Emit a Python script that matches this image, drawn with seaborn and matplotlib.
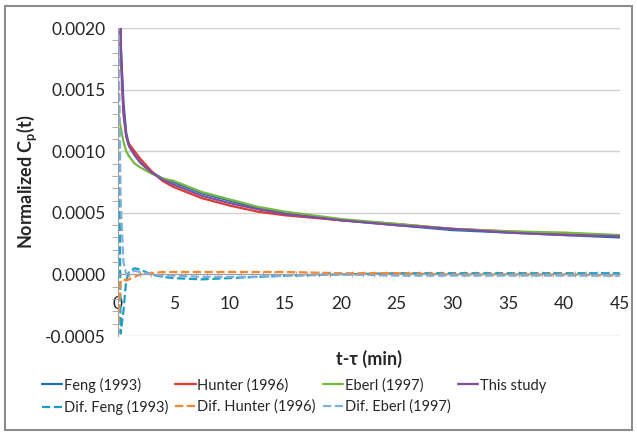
import matplotlib
matplotlib.use("Agg")
import matplotlib.pyplot as plt
from matplotlib.patches import Rectangle
from matplotlib.ticker import MultipleLocator, FormatStrFormatter
import seaborn as sns

# tiempo (min) y curvas
t = [0, 0.25, 0.5, 0.75, 1, 1.5, 2, 3, 4, 5, 7.5, 10, 12.5, 15, 20, 25, 30, 35, 40, 45]

feng = [0.0045, 0.0019, 0.0014, 0.00115, 0.00105, 0.00097, 0.00091, 0.00083, 0.00078, 0.00075,
        0.00066, 0.00060, 0.00054, 0.00050, 0.00044, 0.00040, 0.00036, 0.00034, 0.00032, 0.00030]
hunter = [0.0040, 0.0018, 0.0013, 0.00112, 0.00106, 0.00100, 0.00094, 0.00084, 0.00076, 0.00071,
          0.00062, 0.00056, 0.00051, 0.00048, 0.00044, 0.00041, 0.00037, 0.00035, 0.00033, 0.00031]
eberl = [0.00133, 0.00120, 0.00108, 0.00100, 0.00096, 0.00090, 0.00087, 0.00082, 0.00078, 0.00076,
         0.00067, 0.00061, 0.00055, 0.00051, 0.00045, 0.00041, 0.00037, 0.00035, 0.00034, 0.00032]
this_study = [0.0042, 0.00185, 0.00135, 0.00112, 0.00104, 0.00097, 0.00091, 0.00083, 0.00077, 0.00073,
              0.00064, 0.00058, 0.00053, 0.00049, 0.00044, 0.00040, 0.00037, 0.00034, 0.00032, 0.00031]

dif_feng = [0.0025, -0.00048, -0.0003, -0.00005, 0.00002, 0.00005, 0.00004, 0.0, -0.00002, -0.00003,
            -0.00004, -0.00003, -0.00002, -0.00001, 0.0, 0.00001, 0.00001, 0.00001, 0.00001, 0.00001]
dif_hunter = [-0.0005, -0.00005, -0.00004, -0.00005, -0.00004, -0.00002, 0.0, 0.00001, 0.00002, 0.00002,
              0.00002, 0.00002, 0.00002, 0.00002, 0.00001, 0.00001, 0.0, 0.0, 0.0, -0.00001]
dif_eberl = [0.0025, 0.0006, 0.0001, 0.0, 0.00001, 0.00003, 0.00002, 0.0, -0.00001, -0.00001,
             -0.00002, -0.00002, -0.00002, -0.00001, 0.0, -0.00001, -0.00001, -0.00001, -0.00001, -0.00001]

series = [
    ("Feng (1993)", feng, "#1F6FB5", "-"),
    ("Hunter (1996)", hunter, "#E03A33", "-"),
    ("Eberl (1997)", eberl, "#77B842", "-"),
    ("This study", this_study, "#7E4FA3", "-"),
    ("Dif. Feng (1993)", dif_feng, "#1AA0C4", "--"),
    ("Dif. Hunter (1996)", dif_hunter, "#F7882F", "--"),
    ("Dif. Eberl (1997)", dif_eberl, "#7FAEE0", "--"),
]

sns.set_style("white")
plt.rcParams['font.family'] = ['Lato', 'DejaVu Sans']

fig = plt.figure(figsize=(6.37, 4.33), dpi=100)
ax = fig.add_axes([0.185, 0.224, 0.788, 0.711])

for name, vals, col, ls in series:
    sns.lineplot(x=t, y=vals, ax=ax, color=col, linewidth=1.6, linestyle=ls, label=name)

ax.set_xlim(0, 45)
ax.set_ylim(-0.0005, 0.0020)
ax.yaxis.set_major_locator(MultipleLocator(0.0005))
ax.yaxis.set_minor_locator(MultipleLocator(0.0001))
ax.yaxis.set_major_formatter(FormatStrFormatter('%.4f'))
ax.xaxis.set_major_locator(MultipleLocator(5))
ax.xaxis.set_minor_locator(MultipleLocator(1))

ax.grid(True, axis='y', which='major', color='#D0D0D0', linewidth=1)
ax.set_axisbelow(True)
for s in ['top', 'right']:
    ax.spines[s].set_visible(False)
ax.spines['bottom'].set_position(('data', 0))
ax.spines['bottom'].set_color('#A0A0A0')
ax.spines['left'].set_color('#A0A0A0')

ax.tick_params(axis='y', which='major', direction='out', length=6, color='#A0A0A0', labelsize=12.5, pad=3)
ax.tick_params(axis='y', which='minor', direction='out', length=4, color='#A0A0A0', left=True)
ax.tick_params(axis='x', which='major', direction='inout', length=7, color='#A0A0A0', labelsize=12.5, pad=12)
ax.tick_params(axis='x', which='minor', direction='inout', length=4, color='#A0A0A0', bottom=True)

ax.set_ylabel(r"Normalized C$_\mathregular{p}$(t)", fontsize=13, fontweight='bold', labelpad=4)
ax.set_xlabel("t-τ (min)", fontsize=13, fontweight='bold')
ax.xaxis.set_label_coords(0.5, -0.045)

handles, labels = ax.get_legend_handles_labels()
ax.get_legend().remove()
order = [0, 4, 1, 5, 2, 6, 3]
fig.legend([handles[i] for i in order], [labels[i] for i in order],
           loc='center left', bbox_to_anchor=(0.045, 0.085), ncol=4, frameon=False,
           fontsize=10.5, handlelength=1.4, handletextpad=0.1, columnspacing=0.5,
           labelspacing=0.5)

fig.patches.append(Rectangle((0.008, 0.008), 0.984, 0.977, transform=fig.transFigure,
                             fill=False, edgecolor='#8C8C8C', linewidth=1.5))

fig.savefig("out.png", dpi=100)
